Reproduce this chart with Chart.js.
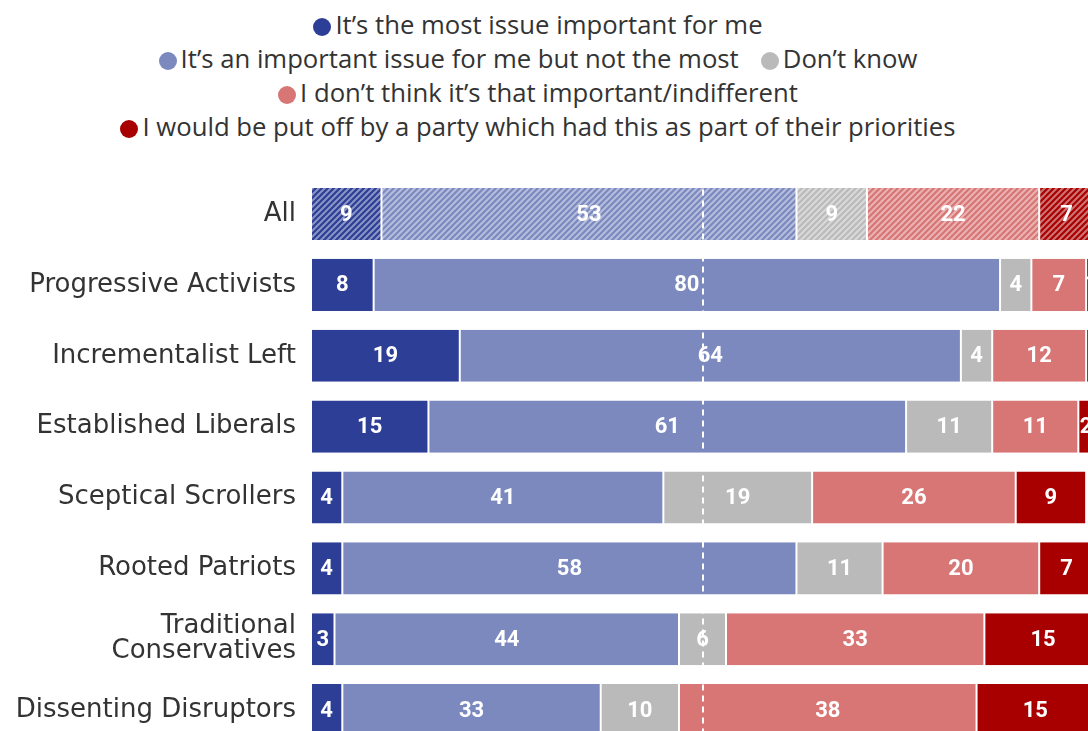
<!DOCTYPE html>
<html>
<head>
<meta charset="utf-8">
<script src="https://cdn.jsdelivr.net/npm/chart.js@4"></script>
<style>
  html, body { margin: 0; padding: 0; background: #fff; overflow: hidden; }
  #wrap { position: relative; width: 1088px; height: 731px; overflow: hidden; }
  #legend {
    position: absolute; left: 0; top: 8px; width: 1076px; text-align: center;
    font-family: "Open Sans", sans-serif; font-size: 25.7px; color: #333;
  }
  #legend .row { height: 34px; line-height: 34px; white-space: nowrap; }
  #legend .item { display: inline-block; margin: 0 11px; }
  #legend .dot {
    display: inline-block; width: 18px; height: 18px; border-radius: 50%;
    vertical-align: -2px; margin-right: 4px;
  }
  canvas { position: absolute; left: 0; top: 0; }
</style>
</head>
<body>
<div id="wrap">
  <div id="legend"></div>
  <canvas id="chart" width="1094" height="773"></canvas>
</div>
<script>
const categories = [
  "All",
  "Progressive Activists",
  "Incrementalist Left",
  "Established Liberals",
  "Sceptical Scrollers",
  "Rooted Patriots",
  ["Traditional", "Conservatives"],
  "Dissenting Disruptors"
]

const mostImportant    = [9, 8, 19, 15, 4, 4, 3, 4]
const importantNotMost = [53, 80, 64, 61, 41, 58, 44, 33]
const dontKnow         = [9, 4, 4, 11, 19, 11, 6, 10]
const notImportant     = [22, 7, 12, 11, 26, 20, 33, 38]
const putOff           = [7, 1, 2, 2, 9, 7, 15, 15]

const seriesLabels = [
  "It’s the most issue important for me",
  "It’s an important issue for me but not the most",
  "Don’t know",
  "I don’t think it’s that important/indifferent",
  "I would be put off by a party which had this as part of their priorities"
]
const seriesColors = ["#2c3e96", "#7b89bf", "#bababa", "#d87575", "#a80000"]
const seriesValues = [mostImportant, importantNotMost, dontKnow, notImportant, putOff]

// legend rows: which series sit on each line
const legendRows = [[0], [1, 2], [3], [4]]

const legendEl = document.getElementById("legend")
legendRows.forEach(row => {
  const div = document.createElement("div")
  div.className = "row"
  row.forEach(i => {
    const item = document.createElement("span")
    item.className = "item"
    const dot = document.createElement("span")
    dot.className = "dot"
    dot.style.background = seriesColors[i]
    item.appendChild(dot)
    item.appendChild(document.createTextNode(seriesLabels[i]))
    div.appendChild(item)
  })
  legendEl.appendChild(div)
})

// mix a hex colour with white
function tint(hex, amt) {
  const n = parseInt(hex.slice(1), 16)
  const r = (n >> 16) & 255, g = (n >> 8) & 255, b = n & 255
  const m = c => Math.round(c + (255 - c) * amt)
  return "rgb(" + m(r) + "," + m(g) + "," + m(b) + ")"
}

// diagonal hatching used for the "All" row
function hatch(color) {
  const size = 6
  const c = document.createElement("canvas")
  c.width = size
  c.height = size
  const g = c.getContext("2d")
  g.fillStyle = tint(color, 0.45)
  g.fillRect(0, 0, size, size)
  g.strokeStyle = color
  g.lineWidth = 2.2
  g.beginPath()
  g.moveTo(-1, size + 1); g.lineTo(size + 1, -1)
  g.moveTo(-size / 2 - 1, size / 2 + 1); g.lineTo(size / 2 + 1, -size / 2 - 1)
  g.moveTo(size / 2 - 1, size * 1.5 + 1); g.lineTo(size * 1.5 + 1, size / 2 - 1)
  g.stroke()
  return document.getElementById("chart").getContext("2d").createPattern(c, "repeat")
}

const datasets = seriesValues.map((vals, i) => {
  const pattern = hatch(seriesColors[i])
  return {
    label: seriesLabels[i],
    data: vals,
    backgroundColor: ctx => ctx.dataIndex === 0 ? pattern : seriesColors[i],
    borderColor: "#ffffff",
    borderWidth: { left: 1, right: 1, top: 0, bottom: 0 },
    borderSkipped: false,
    barPercentage: 0.735,
    categoryPercentage: 1
  }
})

// numbers inside each segment
const segmentLabels = {
  id: "segmentLabels",
  afterDatasetsDraw(chart) {
    const ctx = chart.ctx
    ctx.save()
    ctx.font = "bold 22px Roboto, sans-serif"
    ctx.fillStyle = "#ffffff"
    ctx.textAlign = "center"
    ctx.textBaseline = "middle"
    chart.data.datasets.forEach((ds, di) => {
      chart.getDatasetMeta(di).data.forEach((bar, i) => {
        const p = bar.getProps(["x", "y", "base"], true)
        ctx.fillText(String(ds.data[i]), (p.x + p.base) / 2, p.y + 1)
      })
    })
    ctx.restore()
  }
}

// dashed white line at the 50% mark
const midLine = {
  id: "midLine",
  afterDatasetsDraw(chart) {
    const ctx = chart.ctx
    const x = Math.round(chart.scales.x.getPixelForValue(50))
    ctx.save()
    ctx.strokeStyle = "#ffffff"
    ctx.lineWidth = 2
    ctx.setLineDash([6, 5])
    ctx.beginPath()
    ctx.moveTo(x, chart.chartArea.top)
    ctx.lineTo(x, chart.chartArea.bottom)
    ctx.stroke()
    ctx.restore()
  }
}

new Chart(document.getElementById("chart"), {
  type: "bar",
  data: { labels: categories, datasets },
  options: {
    indexAxis: "y",
    responsive: false,
    animation: false,
    layout: { padding: { top: 178.6, bottom: 5, left: 0, right: 0 } },
    scales: {
      x: { stacked: true, min: 0, max: 100, display: false },
      y: {
        stacked: true,
        grid: { display: false, drawTicks: false },
        border: { display: false },
        ticks: {
          color: "#333333",
          padding: 15,
          font: { family: "DejaVu Sans", size: 26, lineHeight: 0.96 }
        },
        afterFit(scale) { scale.width = 311 }
      }
    },
    plugins: {
      legend: { display: false },
      tooltip: { enabled: false }
    }
  },
  plugins: [midLine, segmentLabels]
})
</script>
</body>
</html>
